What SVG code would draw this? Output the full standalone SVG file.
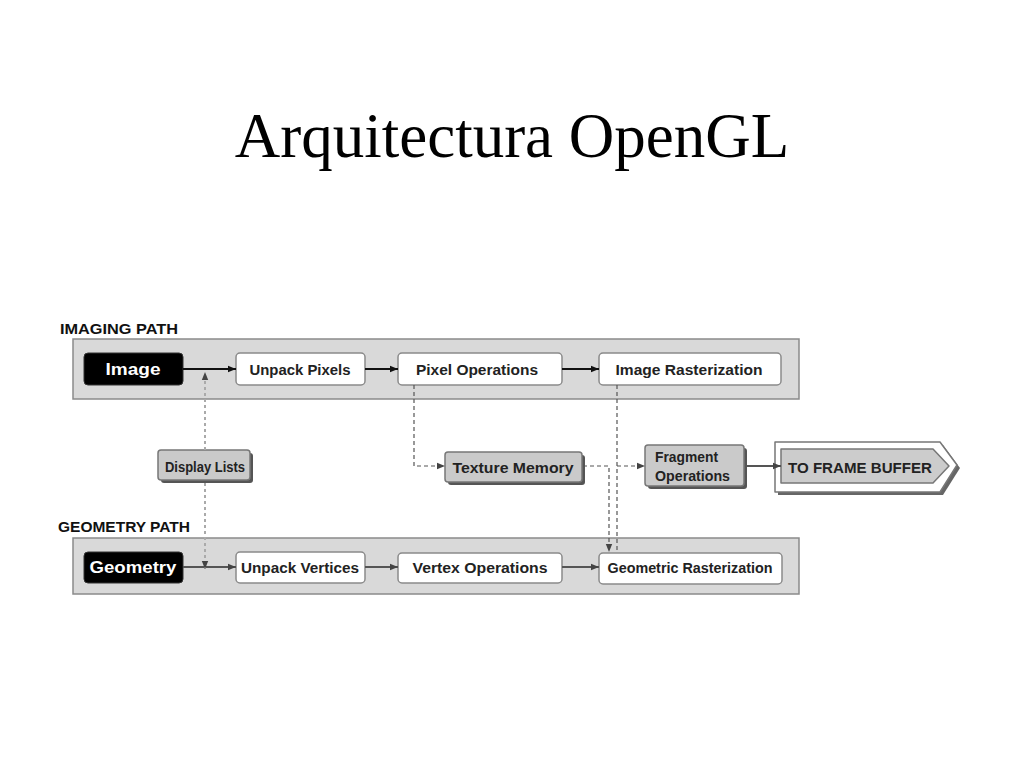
<svg xmlns="http://www.w3.org/2000/svg" width="1024" height="768" viewBox="0 0 1024 768">
<defs>
<style>
.title{font-family:"Liberation Serif","Times New Roman",serif;font-size:63px;fill:#000}
.sec{font-family:"Liberation Sans",Arial,sans-serif;font-weight:bold;font-size:15px;fill:#111}
.lbl{font-family:"Liberation Sans",Arial,sans-serif;font-weight:bold;font-size:14px;fill:#222;text-anchor:middle}
.lblw{font-family:"Liberation Sans",Arial,sans-serif;font-weight:bold;font-size:17px;fill:#fff;text-anchor:middle}
.band{fill:#d9d9d9;stroke:#8a8a8a;stroke-width:1.5}
.wbox{fill:#fff;stroke:#8a8a8a;stroke-width:1.5}
.bbox{fill:#000;stroke:#333;stroke-width:1}
.gbox{fill:#cacaca;stroke:#777;stroke-width:1.5}
.shadow{fill:#555}
.solid{stroke:#111;stroke-width:2;fill:none}
.solidg{stroke:#555;stroke-width:2;fill:none}
.dash{stroke:#555;stroke-width:1.2;fill:none;stroke-dasharray:4 3}
.dot{stroke:#aaa;stroke-width:2;fill:none;stroke-dasharray:3 3}
</style>
<marker id="ah" viewBox="0 0 10 10" refX="10" refY="5" markerWidth="8" markerHeight="8" markerUnits="userSpaceOnUse" orient="auto">
<path d="M0,1 L10,5 L0,9 Z" fill="#111"/>
</marker>
<marker id="ahg" viewBox="0 0 10 10" refX="10" refY="5" markerWidth="8" markerHeight="8" markerUnits="userSpaceOnUse" orient="auto">
<path d="M0,1 L10,5 L0,9 Z" fill="#444"/>
</marker>
</defs>
<rect width="1024" height="768" fill="#fff"/>
<text class="title" x="512" y="157" text-anchor="middle">Arquitectura OpenGL</text>

<g id="imaging-path">
<text class="sec" x="60" y="334" textLength="118" lengthAdjust="spacingAndGlyphs">IMAGING PATH</text>
<rect class="band" x="73" y="339" width="726" height="60"/>
</g>
<g id="geometry-path">
<text class="sec" x="58" y="532" textLength="132" lengthAdjust="spacingAndGlyphs">GEOMETRY PATH</text>
<rect class="band" x="73" y="538" width="726" height="56"/>
</g>

<g id="image">
<rect class="bbox" x="84" y="353" width="99" height="32" rx="4"/>
<text class="lblw" x="133" y="375" textLength="55" lengthAdjust="spacingAndGlyphs">Image</text>
</g>
<g id="unpack-pixels">
<rect class="wbox" x="236" y="353" width="129" height="32" rx="4"/>
<text class="lbl" x="300" y="375" textLength="101" lengthAdjust="spacingAndGlyphs">Unpack Pixels</text>
</g>
<g id="pixel-operations">
<rect class="wbox" x="398" y="353" width="164" height="32" rx="4"/>
<text class="lbl" x="477" y="375" textLength="122" lengthAdjust="spacingAndGlyphs">Pixel Operations</text>
</g>
<g id="image-rasterization">
<rect class="wbox" x="599" y="353" width="182" height="32" rx="4"/>
<text class="lbl" x="689" y="375" textLength="147" lengthAdjust="spacingAndGlyphs">Image Rasterization</text>
</g>

<g id="display-lists">
<rect class="shadow" x="161" y="453" width="92" height="30" rx="3"/>
<rect class="gbox" x="158" y="450" width="92" height="30" rx="3"/>
<text class="lbl" x="205" y="472" textLength="80" lengthAdjust="spacingAndGlyphs">Display Lists</text>
</g>
<g id="texture-memory">
<rect class="shadow" x="448" y="455" width="137" height="30" rx="3"/>
<rect class="gbox" x="445" y="452" width="137" height="30" rx="3"/>
<text class="lbl" x="513" y="473" textLength="121" lengthAdjust="spacingAndGlyphs">Texture Memory</text>
</g>
<g id="fragment-operations">
<rect class="shadow" x="648" y="448" width="99" height="41" rx="3"/>
<rect class="gbox" x="645" y="445" width="99" height="41" rx="3"/>
<text class="lbl" x="655" y="462" style="text-anchor:start;font-size:15px" textLength="63" lengthAdjust="spacingAndGlyphs">Fragment</text>
<text class="lbl" x="655" y="481" style="text-anchor:start;font-size:15px" textLength="75" lengthAdjust="spacingAndGlyphs">Operations</text>
</g>
<g id="to-frame-buffer">
<path d="M778,445 H943 L960,468 L943,495 H778 Z" fill="#666"/>
<path d="M775,442 H940 L957,465 L940,492 H775 Z" fill="#fff" stroke="#777" stroke-width="1.5" stroke-linejoin="round"/>
<path d="M781,449 H933 L949,466 L933,483 H781 Z" fill="#cccccc" stroke="#777" stroke-width="1.5" stroke-linejoin="round"/>
<text class="lbl" x="860" y="473" textLength="144" lengthAdjust="spacingAndGlyphs">TO FRAME BUFFER</text>
</g>

<g id="geometry">
<rect class="bbox" x="84" y="552" width="99" height="31" rx="4"/>
<text class="lblw" x="133" y="573" textLength="87" lengthAdjust="spacingAndGlyphs">Geometry</text>
</g>
<g id="unpack-vertices">
<rect class="wbox" x="236" y="552" width="129" height="31" rx="4"/>
<text class="lbl" x="300" y="573" textLength="118" lengthAdjust="spacingAndGlyphs">Unpack Vertices</text>
</g>
<g id="vertex-operations">
<rect class="wbox" x="398" y="553" width="164" height="30" rx="4"/>
<text class="lbl" x="480" y="573" textLength="135" lengthAdjust="spacingAndGlyphs">Vertex Operations</text>
</g>
<g id="geometric-rasterization">
<rect class="wbox" x="599" y="553" width="183" height="31" rx="4"/>
<text class="lbl" x="690" y="573" textLength="165" lengthAdjust="spacingAndGlyphs">Geometric Rasterization</text>
</g>

<g id="connectors">
<line class="solid" x1="183" y1="369" x2="236" y2="369" marker-end="url(#ah)"/>
<line class="solid" x1="365" y1="369" x2="398" y2="369" marker-end="url(#ah)"/>
<line class="solid" x1="562" y1="369" x2="599" y2="369" marker-end="url(#ah)"/>
<line class="solidg" x1="183" y1="567" x2="236" y2="567" marker-end="url(#ahg)"/>
<line class="solidg" x1="365" y1="567" x2="398" y2="567" marker-end="url(#ahg)"/>
<line class="solidg" x1="562" y1="567" x2="599" y2="567" marker-end="url(#ahg)"/>
<line class="solidg" x1="746" y1="466" x2="781" y2="466" marker-end="url(#ahg)"/>
<line class="dot" x1="205" y1="450" x2="205" y2="372" marker-end="url(#ahg)"/>
<line class="dot" x1="205" y1="483" x2="205" y2="569" marker-end="url(#ahg)"/>
<path class="dash" d="M414,385 V466 H445" marker-end="url(#ahg)"/>
<path class="dash" d="M583,466 H609 V552" marker-end="url(#ahg)"/>
<path class="dash" d="M617,385 V553"/>
<path class="dash" d="M617,466 H645" marker-end="url(#ahg)"/>
</g>
</svg>
